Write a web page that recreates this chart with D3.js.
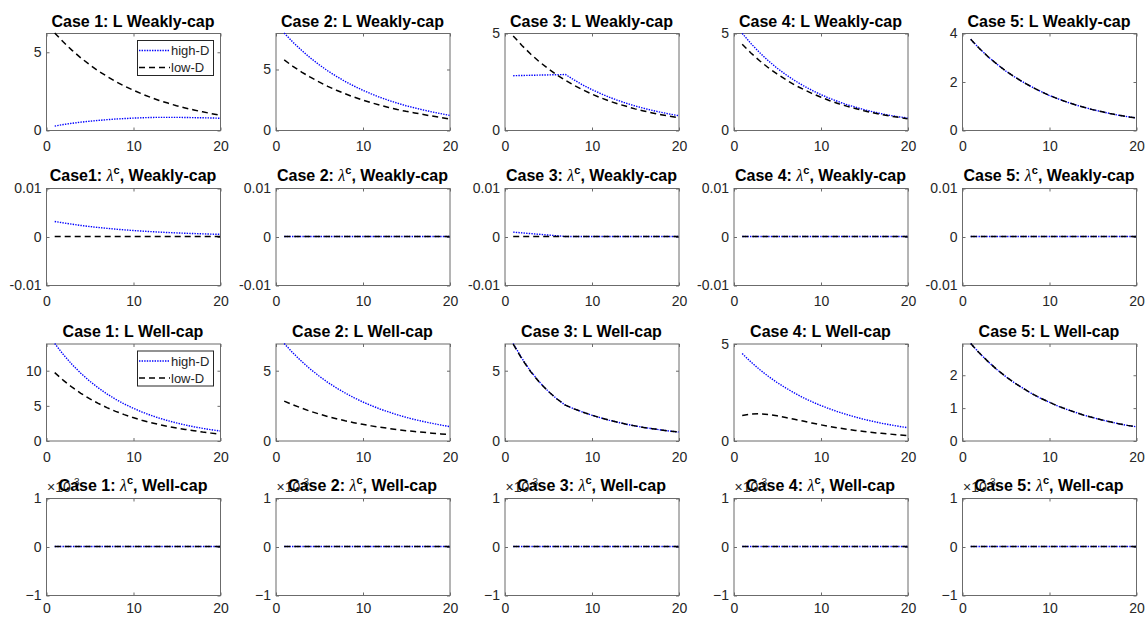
<!DOCTYPE html>
<html>
<head>
<meta charset="utf-8">
<script src="https://cdn.jsdelivr.net/npm/d3@7"></script>
<style>
  body { margin: 0; background: #fff; }
  text { font-family: "Liberation Sans", Arial, sans-serif; }
</style>
</head>
<body>
<script>
// periods on the x axis
var periods = [1, 2, 3, 4, 5, 6, 7, 8, 9, 10, 11, 12, 13, 14, 15, 16, 17, 18, 19, 20];
var zeros20 = [0, 0, 0, 0, 0, 0, 0, 0, 0, 0, 0, 0, 0, 0, 0, 0, 0, 0, 0, 0];

// Row 1: L, weakly-capitalised banks (cases 1..5)
var weakL_high = [
  [0.25, 0.35, 0.43, 0.50, 0.56, 0.61, 0.66, 0.70, 0.73, 0.76, 0.78, 0.80, 0.81, 0.81, 0.81, 0.80, 0.79, 0.78, 0.77, 0.75],
  [7.95, 7.20, 6.53, 5.91, 5.36, 4.85, 4.40, 3.98, 3.61, 3.27, 2.96, 2.68, 2.43, 2.20, 1.99, 1.81, 1.64, 1.48, 1.34, 1.20],
  [2.80, 2.81, 2.82, 2.83, 2.84, 2.85, 2.86, 2.58, 2.32, 2.09, 1.89, 1.70, 1.53, 1.38, 1.24, 1.12, 1.01, 0.91, 0.82, 0.74],
  [4.98, 4.46, 3.99, 3.57, 3.19, 2.86, 2.56, 2.29, 2.05, 1.83, 1.64, 1.47, 1.31, 1.18, 1.05, 0.94, 0.84, 0.75, 0.68, 0.62],
  [3.74, 3.36, 3.02, 2.72, 2.44, 2.20, 1.98, 1.78, 1.60, 1.43, 1.29, 1.16, 1.04, 0.94, 0.84, 0.76, 0.68, 0.61, 0.55, 0.50]
];
var weakL_low = [
  [6.20, 5.62, 5.09, 4.61, 4.18, 3.78, 3.43, 3.10, 2.81, 2.55, 2.31, 2.09, 1.89, 1.72, 1.55, 1.41, 1.28, 1.16, 1.05, 0.95],
  [5.74, 5.22, 4.75, 4.33, 3.94, 3.58, 3.26, 2.97, 2.70, 2.46, 2.24, 2.03, 1.85, 1.68, 1.53, 1.40, 1.27, 1.14, 1.02, 0.90],
  [4.85, 4.36, 3.92, 3.52, 3.17, 2.85, 2.56, 2.30, 2.07, 1.86, 1.67, 1.50, 1.35, 1.22, 1.09, 0.98, 0.88, 0.79, 0.71, 0.64],
  [4.42, 3.97, 3.57, 3.21, 2.89, 2.60, 2.33, 2.10, 1.89, 1.70, 1.52, 1.37, 1.23, 1.11, 0.99, 0.89, 0.80, 0.72, 0.65, 0.58],
  [3.74, 3.36, 3.02, 2.72, 2.44, 2.20, 1.98, 1.78, 1.60, 1.43, 1.29, 1.16, 1.04, 0.94, 0.84, 0.76, 0.68, 0.61, 0.55, 0.50]
];

// Row 2: lambda^c, weakly-capitalised
var weakLam_high = [
  [0.0031, 0.0028, 0.00253, 0.00228, 0.00206, 0.00186, 0.00168, 0.00152, 0.00137, 0.00124, 0.00112, 0.00101, 0.00091, 0.00082, 0.00074, 0.00067, 0.00061, 0.00055, 0.00049, 0.00045],
  zeros20,
  [0.0009, 0.00075, 0.0006, 0.00045, 0.0003, 0.00015, 0, 0, 0, 0, 0, 0, 0, 0, 0, 0, 0, 0, 0, 0],
  zeros20,
  zeros20
];
var weakLam_low = [zeros20, zeros20, zeros20, zeros20, zeros20];

// Row 3: L, well-capitalised
var wellL_high = [
  [13.8, 12.21, 10.81, 9.57, 8.47, 7.49, 6.63, 5.87, 5.19, 4.60, 4.07, 3.60, 3.19, 2.82, 2.50, 2.21, 1.95, 1.73, 1.53, 1.35],
  [6.90, 6.23, 5.63, 5.08, 4.59, 4.14, 3.74, 3.38, 3.05, 2.75, 2.49, 2.24, 2.03, 1.83, 1.65, 1.49, 1.35, 1.22, 1.10, 0.99],
  [6.90, 5.85, 4.93, 4.17, 3.52, 2.97, 2.51, 2.25, 2.02, 1.81, 1.62, 1.45, 1.30, 1.16, 1.04, 0.93, 0.84, 0.75, 0.67, 0.60],
  [4.48, 4.05, 3.66, 3.31, 2.99, 2.71, 2.45, 2.21, 2.00, 1.81, 1.64, 1.48, 1.34, 1.21, 1.09, 0.99, 0.89, 0.81, 0.73, 0.66],
  [2.95, 2.66, 2.40, 2.16, 1.95, 1.76, 1.59, 1.43, 1.29, 1.17, 1.05, 0.95, 0.86, 0.77, 0.70, 0.63, 0.57, 0.51, 0.46, 0.42]
];
var wellL_low = [
  [9.65, 8.55, 7.58, 6.72, 5.95, 5.28, 4.68, 4.15, 3.68, 3.26, 2.89, 2.56, 2.27, 2.01, 1.78, 1.58, 1.40, 1.21, 1.05, 0.90],
  [2.80, 2.54, 2.30, 2.08, 1.89, 1.71, 1.55, 1.40, 1.27, 1.15, 1.04, 0.94, 0.86, 0.78, 0.70, 0.64, 0.58, 0.52, 0.47, 0.43],
  [6.85, 5.80, 4.90, 4.15, 3.51, 2.97, 2.51, 2.25, 2.02, 1.81, 1.62, 1.45, 1.30, 1.16, 1.04, 0.93, 0.84, 0.75, 0.67, 0.60],
  [1.29, 1.36, 1.38, 1.34, 1.27, 1.18, 1.09, 1.00, 0.90, 0.81, 0.73, 0.65, 0.58, 0.52, 0.46, 0.41, 0.37, 0.33, 0.29, 0.26],
  [2.95, 2.66, 2.40, 2.16, 1.95, 1.76, 1.59, 1.43, 1.29, 1.17, 1.05, 0.95, 0.86, 0.77, 0.70, 0.63, 0.57, 0.51, 0.46, 0.42]
];

// Row 4: lambda^c, well-capitalised
var wellLam_high = [zeros20, zeros20, zeros20, zeros20, zeros20];
var wellLam_low = [zeros20, zeros20, zeros20, zeros20, zeros20];

// y limits and ticks per row / case
var yMax = [
  [6.2, 7.95, 5, 5, 4],
  [0.01, 0.01, 0.01, 0.01, 0.01],
  [13.8, 6.9, 6.9, 5, 2.95],
  [0.001, 0.001, 0.001, 0.001, 0.001]
];
var yMin = [
  [0, 0, 0, 0, 0],
  [-0.01, -0.01, -0.01, -0.01, -0.01],
  [0, 0, 0, 0, 0],
  [-0.001, -0.001, -0.001, -0.001, -0.001]
];
var yTicks = [
  [[0, 5], [0, 5], [0, 5], [0, 5], [0, 2, 4]],
  [[-0.01, 0, 0.01], [-0.01, 0, 0.01], [-0.01, 0, 0.01], [-0.01, 0, 0.01], [-0.01, 0, 0.01]],
  [[0, 5, 10], [0, 5], [0, 5], [0, 5], [0, 1, 2]],
  [[-0.001, 0, 0.001], [-0.001, 0, 0.001], [-0.001, 0, 0.001], [-0.001, 0, 0.001], [-0.001, 0, 0.001]]
];
var xTicks = [0, 10, 20];
var caseLabels = ["Case 1", "Case 2", "Case 3", "Case 4", "Case 5"];

var rows = [
  {high: weakL_high, low: weakL_low, kind: "L", suffix: "Weakly-cap"},
  {high: weakLam_high, low: weakLam_low, kind: "lam", suffix: "Weakly-cap"},
  {high: wellL_high, low: wellL_low, kind: "L", suffix: "Well-cap"},
  {high: wellLam_high, low: wellLam_low, kind: "lam", suffix: "Well-cap", expo: true}
];

// layout
var svgWidth = 1146;
var svgHeight = 617;
var colLeft = [46, 275.5, 504.5, 733.5, 962];
var rowTop = [33, 188, 343.5, 498];
var xPad = [11, 11, 11, 8];
var panelW = 174;
var panelH = 97;
var axisColor = "#6b6b6b";
var textColor = "#262626";

var svg = d3.select("body")
  .append("svg")
  .attr("width", svgWidth)
  .attr("height", svgHeight);

rows.forEach(function(row, r) {
  for (var c = 0; c < 5; c++) {
    drawPanel(row, r, c);
  }
});

function drawPanel(row, r, c) {
  var g = svg.append("g")
    .attr("transform", `translate(${colLeft[c]}, ${rowTop[r]})`);

  var x = d3.scaleLinear().domain([0, 20]).range([0, panelW]);
  var y = d3.scaleLinear().domain([yMin[r][c], yMax[r][c]]).range([panelH, 0]);

  var fmt = function(d) {
    if (row.expo) return d3.format("d")(Math.round(d * 1000));
    return String(+d.toFixed(4));
  };

  // box
  g.append("rect")
    .attr("x", 0.5).attr("y", 0.5)
    .attr("width", panelW).attr("height", panelH)
    .attr("fill", "none")
    .attr("stroke", axisColor)
    .attr("stroke-width", 1);

  // axes, ticks pointing inward like MATLAB
  var bottom = g.append("g")
    .attr("transform", `translate(0.5, ${panelH + 0.5})`)
    .call(d3.axisBottom(x).tickValues(xTicks).tickSizeInner(-3).tickSizeOuter(0).tickPadding(xPad[r]));
  var left = g.append("g")
    .attr("transform", "translate(0.5, 0.5)")
    .call(d3.axisLeft(y).tickValues(yTicks[r][c]).tickFormat(fmt).tickSizeInner(-3).tickSizeOuter(0).tickPadding(5));
  var top = g.append("g")
    .attr("transform", "translate(0.5, 0.5)")
    .call(d3.axisTop(x).tickValues(xTicks).tickFormat("").tickSizeInner(-3).tickSizeOuter(0));
  var right = g.append("g")
    .attr("transform", `translate(${panelW + 0.5}, 0.5)`)
    .call(d3.axisRight(y).tickValues(yTicks[r][c]).tickFormat("").tickSizeInner(-3).tickSizeOuter(0));

  [bottom, left, top, right].forEach(function(a) {
    a.select(".domain").remove();
    a.selectAll("line").attr("stroke", axisColor);
    a.selectAll("text")
      .attr("fill", textColor)
      .style("font-family", "'Liberation Sans', Arial, sans-serif")
      .style("font-size", "14px");
  });

  var line = d3.line()
    .x(function(d, i) { return x(periods[i]); })
    .y(function(d) { return y(d); });

  g.append("path")
    .datum(row.high[c])
    .attr("d", line)
    .attr("fill", "none")
    .attr("stroke", "#0000ff")
    .attr("stroke-width", 1.4)
    .attr("stroke-dasharray", "1.4,1.2");

  g.append("path")
    .datum(row.low[c])
    .attr("d", line)
    .attr("fill", "none")
    .attr("stroke", "#000")
    .attr("stroke-width", 1.5)
    .attr("stroke-dasharray", "6,4");

  // x10^-3 exponent label (drawn before title so the title sits on top)
  if (row.expo) {
    var ex = g.append("text")
      .attr("x", 1)
      .attr("y", -6)
      .attr("fill", textColor)
      .style("font-size", "14px");
    ex.append("tspan").text("\u00d710");
    ex.append("tspan").attr("dy", -6).style("font-size", "10px").text("-3");
  }

  // title
  var title = g.append("text")
    .attr("x", panelW / 2)
    .attr("y", row.kind === "lam" ? -7.5 : -6.5)
    .attr("text-anchor", "middle")
    .attr("fill", "#000")
    .style("font-size", "16px")
    .style("font-weight", "bold");

  if (row.kind === "L") {
    title.text(caseLabels[c] + ": L " + row.suffix);
  } else {
    var lead = (r === 1 && c === 0) ? "Case1: " : caseLabels[c] + ": ";
    title.append("tspan").text(lead);
    title.append("tspan")
      .style("font-family", "'Liberation Serif', 'DejaVu Serif', serif")
      .style("font-style", "italic")
      .style("font-weight", "normal")
      .text("\u03bb");
    title.append("tspan")
      .attr("dy", -7)
      .style("font-size", "11px")
      .text("c");
    title.append("tspan")
      .attr("dy", 7)
      .text(", " + row.suffix);
  }

  // legend in the first column of the L rows
  if (c === 0 && row.kind === "L") {
    var lw = 76, lh = 35;
    var lg = g.append("g")
      .attr("transform", `translate(${panelW - 7 - lw}, 7)`);
    lg.append("rect")
      .attr("x", 0.5).attr("y", 0.5)
      .attr("width", lw).attr("height", lh)
      .attr("fill", "#fff")
      .attr("stroke", "#262626")
      .attr("stroke-width", 1);
    var items = [
      {label: "high-D", color: "#0000ff", dash: "1.4,1.2", w: 1.4},
      {label: "low-D", color: "#000", dash: "6,4", w: 1.5}
    ];
    items.forEach(function(it, i) {
      var yy = 10.5 + i * 17;
      lg.append("line")
        .attr("x1", 2).attr("x2", 33)
        .attr("y1", yy).attr("y2", yy)
        .attr("stroke", it.color)
        .attr("stroke-width", it.w)
        .attr("stroke-dasharray", it.dash);
      lg.append("text")
        .attr("x", 34)
        .attr("y", yy)
        .attr("dy", "0.35em")
        .attr("fill", textColor)
        .style("font-size", "13px")
        .text(it.label);
    });
  }
}
</script>
</body>
</html>
